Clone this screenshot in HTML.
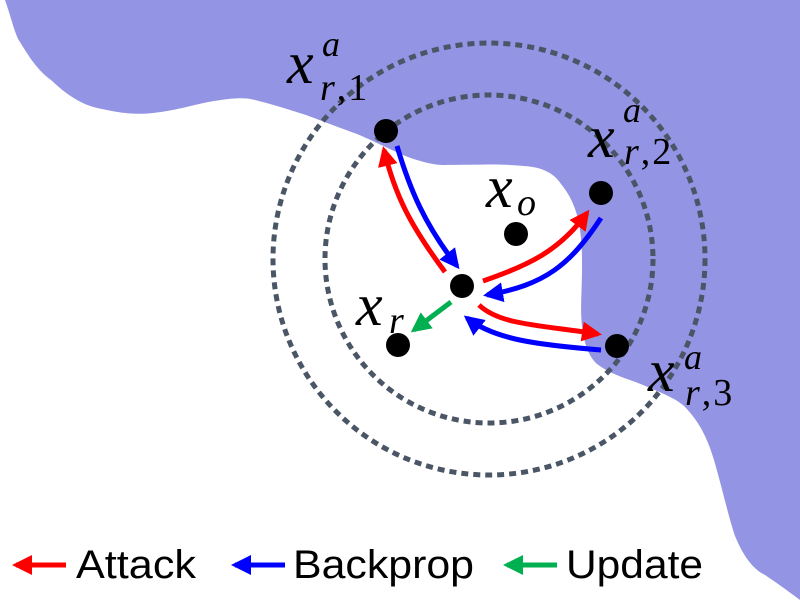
<!DOCTYPE html>
<html><head><meta charset="utf-8"><style>
html,body{margin:0;padding:0;background:#fff;width:800px;height:600px;overflow:hidden}
svg{display:block}
.m{font-family:"Liberation Serif",serif;font-style:italic;fill:#000}
.lg{font-family:"Liberation Sans",sans-serif;font-size:40px;fill:#000}
</style></head><body>
<svg width="800" height="600" viewBox="0 0 800 600">
<defs>
<marker id="hr" viewBox="0 0 10 10" refX="8" refY="5" markerWidth="4" markerHeight="4" orient="auto"><path d="M0,0 L10,5 L0,10 z" fill="#ff0000"/></marker>
<marker id="hb" viewBox="0 0 10 10" refX="8" refY="5" markerWidth="4" markerHeight="4" orient="auto"><path d="M0,0 L10,5 L0,10 z" fill="#0000ff"/></marker>
<marker id="hg" viewBox="0 0 10 10" refX="8" refY="5" markerWidth="4" markerHeight="4" orient="auto"><path d="M0,0 L10,5 L0,10 z" fill="#00b050"/></marker>
</defs>
<path fill="#9494e4" d="M5,0 C12,20 15,35 20,42 C32,62 40,72 51,80 C70,98 85,106 102,109 C120,113 135,115 153,113 C180,110 195,104 214,101 C232,98 245,97 255,100 C275,105 290,110 306,115 C325,122 340,128 357,134 C378,143 395,152 408,157 C425,163 435,165 444,165 C470,165 495,164 510,165 C528,166 535,167 541,169 C552,173 557,178 561,184 C570,195 574,205 577,215 C582,235 582,250 582,268 C582,290 580,310 582,326 C584,345 590,358 597,364 C610,374 625,378 638,383 C660,392 675,398 684,406 C700,422 708,440 714,460 C724,495 728,515 735,536 C745,560 755,570 765,575 C780,585 792,594 800,600 L800,0 Z"/>
<circle cx="489" cy="259" r="216" fill="none" stroke="#4a5666" stroke-width="5" stroke-dasharray="7,5"/>
<circle cx="489" cy="259" r="164" fill="none" stroke="#4a5666" stroke-width="5" stroke-dasharray="7,5"/>
<g stroke-width="5" fill="none">
<path d="M445,272 C410,225 395,195 384,150" stroke="#ff0000" marker-end="url(#hr)"/>
<path d="M397,146 C410,190 425,225 457,266" stroke="#0000ff" marker-end="url(#hb)"/>
<path d="M483,281 C530,265 560,250 587,213" stroke="#ff0000" marker-end="url(#hr)"/>
<path d="M601,218 C570,265 545,285 487,295" stroke="#0000ff" marker-end="url(#hb)"/>
<path d="M479,305 C500,325 540,325 598,334" stroke="#ff0000" marker-end="url(#hr)"/>
<path d="M601,350 C540,345 495,340 467,318" stroke="#0000ff" marker-end="url(#hb)"/>
<path d="M451,302 L414,330" stroke="#00b050" marker-end="url(#hg)"/>
</g>
<g fill="#000">
<circle cx="386" cy="131" r="12"/>
<circle cx="601" cy="193" r="12"/>
<circle cx="617" cy="346" r="12"/>
<circle cx="516" cy="234" r="12"/>
<circle cx="462" cy="286" r="12"/>
<circle cx="398" cy="345" r="12"/>
</g>
<g><text class="m" x="287" y="83" font-size="60">x</text><text class="m" x="322" y="56" font-size="36">a</text><text class="m" x="320" y="100" font-size="38" letter-spacing="2">r<tspan font-style="normal">,1</tspan></text></g>
<g><text class="m" x="588" y="157" font-size="60">x</text><text class="m" x="623" y="122" font-size="36">a</text><text class="m" x="624" y="164" font-size="38" letter-spacing="2">r<tspan font-style="normal">,2</tspan></text></g>
<g><text class="m" x="648" y="391" font-size="60">x</text><text class="m" x="684" y="369" font-size="36">a</text><text class="m" x="685" y="405" font-size="38" letter-spacing="2">r<tspan font-style="normal">,3</tspan></text></g>
<g><text class="m" x="486" y="207" font-size="60">x</text><text class="m" x="517" y="215" font-size="38">o</text></g>
<g><text class="m" x="356" y="325" font-size="60">x</text><text class="m" x="389" y="333" font-size="38">r</text></g>
<g>
<line x1="66" y1="565" x2="16" y2="565" stroke="#ff0000" stroke-width="5" marker-end="url(#hr)"/>
<text class="lg" x="76" y="578" textLength="120" lengthAdjust="spacingAndGlyphs">Attack</text>
<line x1="285" y1="565" x2="235" y2="565" stroke="#0000ff" stroke-width="5" marker-end="url(#hb)"/>
<text class="lg" x="293" y="578" textLength="181" lengthAdjust="spacingAndGlyphs">Backprop</text>
<line x1="557" y1="565" x2="507" y2="565" stroke="#00b050" stroke-width="5" marker-end="url(#hg)"/>
<text class="lg" x="566" y="578" textLength="137" lengthAdjust="spacingAndGlyphs">Update</text>
</g>
</svg>
</body></html>
